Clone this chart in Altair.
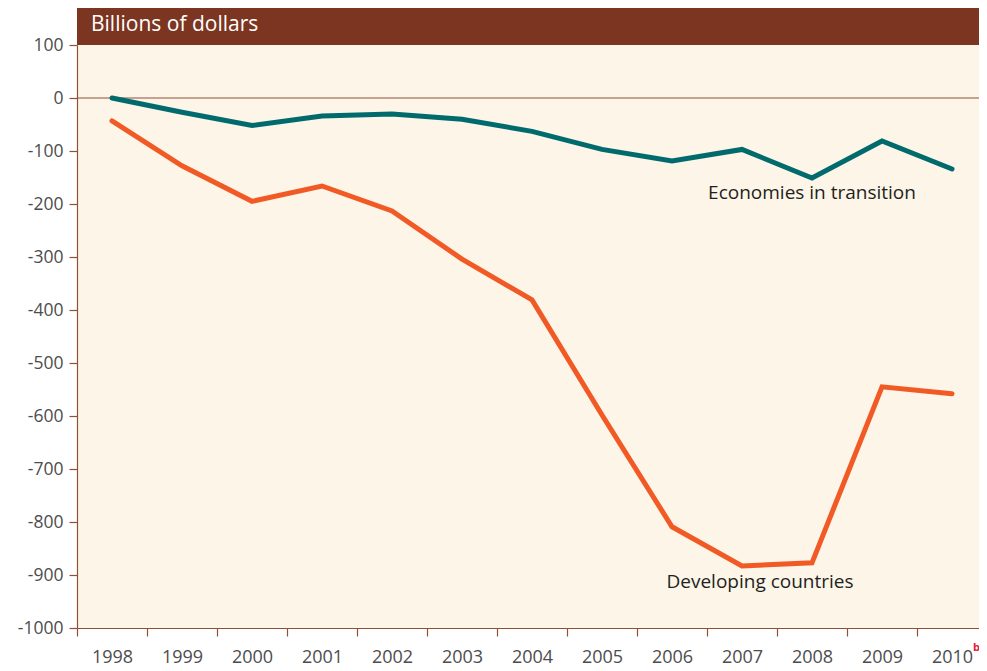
import altair as alt
import pandas as pd

years = [str(y) for y in range(1998, 2011)]
transition = [0, -27, -52, -34, -30, -40, -63, -97, -119, -97, -151, -81, -134]
developing = [-43, -128, -195, -166, -213, -304, -381, -598, -809, -883, -877, -545, -558]
series_names = ["Economies in transition", "Developing countries"]
y_ticks = list(range(-1000, 101, 100))
title_text = "Billions of dollars"
footnote = "b"

rows = []
for i, y in enumerate(years):
    rows.append({"year": y, "value": transition[i], "series": series_names[0]})
    rows.append({"year": y, "value": developing[i], "series": series_names[1]})
df = pd.DataFrame(rows)

W, H = 902, 583
FONT = "Open Sans"
BROWN = "#7B3520"
AXIS = "#8E5038"

xscale = alt.Scale(type="point", padding=0.5, domain=years, range=[0, 910])
yscale = alt.Scale(domain=[-1000, 100], nice=False, zero=False)

x_enc = alt.X("year:O", scale=xscale, axis=alt.Axis(
    title=None, labelAngle=0, tickOffset=-35, labelOffset=35, tickSize=8,
    labelPadding=12, labelFont=FONT, labelFontSize=18, labelColor="#4D4D4D",
    domainColor=AXIS, tickColor=AXIS, domainWidth=1.2, tickWidth=1.2))
y_enc = alt.Y("value:Q", scale=yscale, axis=alt.Axis(
    title=None, values=y_ticks, labelExpr="'' + datum.value", grid=False,
    tickSize=8, labelPadding=6, labelFont=FONT, labelFontSize=17.5,
    labelColor="#4D4D4D", domainColor=AXIS, tickColor=AXIS,
    domainWidth=1.2, tickWidth=1.2))

base = alt.Chart(df)

zero = alt.Chart(pd.DataFrame({"v": [0]})).mark_rule(color=AXIS, strokeWidth=1.2).encode(
    y=alt.Y("v:Q", scale=yscale))

lines = base.mark_line(strokeWidth=5, strokeCap="round", strokeJoin="miter").encode(
    x=x_enc, y=y_enc,
    color=alt.Color("series:N", scale=alt.Scale(domain=series_names,
                                                 range=["#006A6C", "#F15A25"]), legend=None))

ann = pd.DataFrame({
    "year": ["2008", "2007"],
    "value": [-179, -913],
    "text": series_names,
    "dx": [0, 18],
})
labels = alt.Chart(ann).mark_text(font=FONT, fontSize=19, color="#231F20", align="center",
                                  baseline="middle").encode(
    x=alt.X("year:O", scale=xscale), y=alt.Y("value:Q", scale=yscale), text="text:N",
    xOffset=alt.XOffset("dx:Q", scale=None))

bar_df = pd.DataFrame({"t": [title_text]})
bar = alt.Chart(bar_df).mark_rect(color=BROWN).encode(
    x=alt.value(0), x2=alt.value(W), y=alt.value(-40), y2=alt.value(0))
bar_text = alt.Chart(bar_df).mark_text(font=FONT, fontSize=21, color="white", align="left",
                                       baseline="middle").encode(
    x=alt.value(14), y=alt.value(-20), text="t:N")

fn = alt.Chart(pd.DataFrame({"year": ["2010"], "t": [footnote]})).mark_text(
    font=FONT, fontSize=11, fontWeight="bold", color="#E0203A", align="left",
    baseline="middle", dx=21).encode(
    x=alt.X("year:O", scale=xscale), y=alt.value(H + 20), text="t:N")

chart = alt.layer(zero, lines, labels, bar, bar_text, fn).properties(
    width=W, height=H,
    autosize=alt.AutoSizeParams(type="none"),
    padding={"left": 69, "top": 37, "right": 0, "bottom": 40},
    background="white",
).configure_view(fill="#FCF5E8", stroke=None)

chart.save("out.html", embed_options={"renderer": "svg", "actions": False})
